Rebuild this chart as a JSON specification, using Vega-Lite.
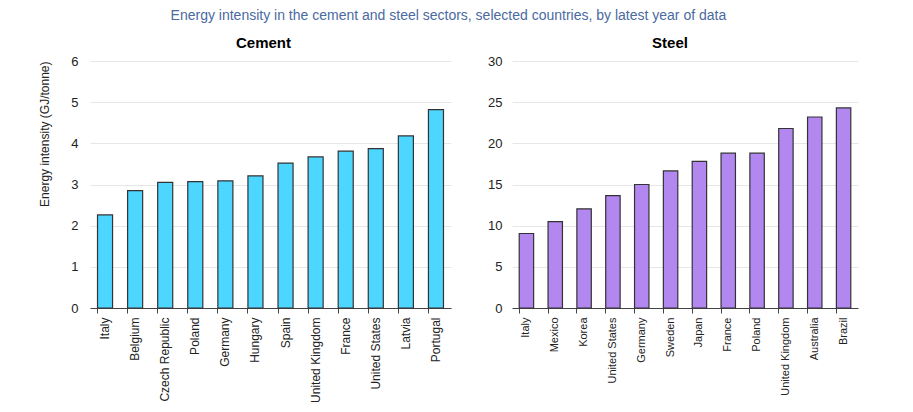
{
  "$schema": "https://vega.github.io/schema/vega-lite/v6.json",
  "background": "white",
  "padding": {"left": 38, "top": 9, "right": 10, "bottom": 5},
  "title": {"text": "Energy intensity in the cement and steel sectors, selected countries, by latest year of data", "font": "Liberation Sans", "fontSize": 14, "fontWeight": "normal", "color": "#4a6aa0", "anchor": "middle", "offset": 13},
  "datasets": {
    "cement": [
      {"country": "Italy", "value": 2.26},
      {"country": "Belgium", "value": 2.85},
      {"country": "Czech Republic", "value": 3.05},
      {"country": "Poland", "value": 3.07},
      {"country": "Germany", "value": 3.09},
      {"country": "Hungary", "value": 3.21},
      {"country": "Spain", "value": 3.52},
      {"country": "United Kingdom", "value": 3.67},
      {"country": "France", "value": 3.81},
      {"country": "United States", "value": 3.87},
      {"country": "Latvia", "value": 4.18},
      {"country": "Portugal", "value": 4.82}
    ],
    "steel": [
      {"country": "Italy", "value": 9.05},
      {"country": "Mexico", "value": 10.5},
      {"country": "Korea", "value": 12.05},
      {"country": "United States", "value": 13.65},
      {"country": "Germany", "value": 15.0},
      {"country": "Sweden", "value": 16.65},
      {"country": "Japan", "value": 17.8},
      {"country": "France", "value": 18.8},
      {"country": "Poland", "value": 18.8},
      {"country": "United Kingdom", "value": 21.8},
      {"country": "Australia", "value": 23.2},
      {"country": "Brazil", "value": 24.3}
    ]
  },
  "config": {
    "font": "Liberation Sans",
    "view": {"stroke": null},
    "concat": {"spacing": 36},
    "axis": {"labelFont": "Liberation Sans", "titleFont": "Liberation Sans", "labelColor": "#222", "titleColor": "#222"},
    "title": {"font": "Liberation Sans"}
  },
  "hconcat": [
    {
      "width": 361,
      "height": 247,
      "title": {"text": "Cement", "fontSize": 15, "fontWeight": "bold", "color": "#000", "anchor": "middle", "offset": 4, "dx": -7},
      "data": {"name": "cement"},
      "mark": {"type": "bar", "fill": "#4dd6ff", "stroke": "#333", "strokeWidth": 1.2},
      "encoding": {
        "x": {"field": "country", "type": "nominal", "sort": null,
          "scale": {"paddingInner": 0.5, "paddingOuter": 0.25},
          "axis": {"title": null, "labelAngle": -90, "labelFontSize": 12, "labelPadding": 4, "domainColor": "#444", "tickColor": "#444", "bandPosition": 0, "tickSize": 5, "grid": false}},
        "y": {"field": "value", "type": "quantitative",
          "scale": {"domain": [0, 6], "nice": false},
          "axis": {"title": "Energy intensity (GJ/tonne)", "titleFontSize": 12, "titleFontWeight": "normal", "titlePadding": 19, "titleAnchor": "end", "values": [0, 1, 2, 3, 4, 5, 6], "labelFontSize": 13, "labelPadding": 12, "ticks": false, "domain": false, "gridColor": "#e6e6e6"}}
      }
    },
    {
      "width": 346,
      "height": 247,
      "title": {"text": "Steel", "fontSize": 15, "fontWeight": "bold", "color": "#000", "anchor": "middle", "offset": 4, "dx": -15},
      "data": {"name": "steel"},
      "mark": {"type": "bar", "fill": "#b287f0", "stroke": "#333", "strokeWidth": 1.2},
      "encoding": {
        "x": {"field": "country", "type": "nominal", "sort": null,
          "scale": {"paddingInner": 0.5, "paddingOuter": 0.25},
          "axis": {"title": null, "labelAngle": -90, "labelFontSize": 11, "labelPadding": 4, "domainColor": "#444", "tickColor": "#444", "bandPosition": 0, "tickSize": 5, "grid": false}},
        "y": {"field": "value", "type": "quantitative",
          "scale": {"domain": [0, 30], "nice": false},
          "axis": {"title": null, "values": [0, 5, 10, 15, 20, 25, 30], "labelFontSize": 13, "labelPadding": 10, "ticks": false, "domain": false, "gridColor": "#e6e6e6"}}
      }
    }
  ]
}
